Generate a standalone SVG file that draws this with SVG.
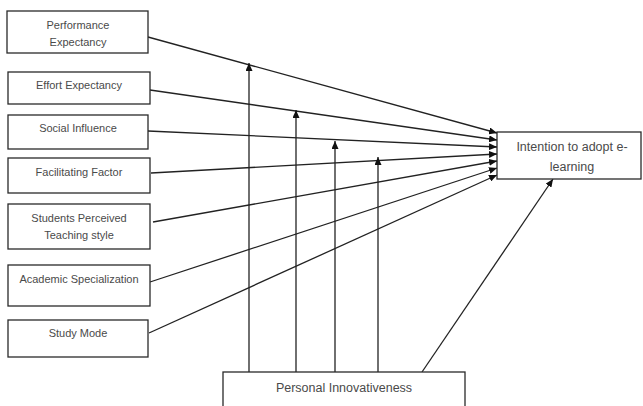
<svg xmlns="http://www.w3.org/2000/svg" width="643" height="406" viewBox="0 0 643 406">
<defs>
<marker id="ah" markerWidth="8" markerHeight="7" refX="8" refY="3.5" orient="auto" markerUnits="userSpaceOnUse">
<path d="M0,0 L8,3.5 L0,7 Z" fill="#111"/>
</marker>
<style>
.box{fill:#fff;stroke:#2a2a2a;stroke-width:1.3}
.t{font-family:"Liberation Sans",Arial,sans-serif;font-size:11px;fill:#4a4a4a;text-anchor:middle}
.tl{font-family:"Liberation Sans",Arial,sans-serif;font-size:12.5px;fill:#4a4a4a;text-anchor:middle}
.c{stroke:#222;stroke-width:1.3;fill:none;marker-end:url(#ah)}
</style>
</defs>
<rect width="643" height="406" fill="#fff"/>
<g id="connectors">
<line class="c" x1="148" y1="37" x2="497" y2="133"/>
<line class="c" x1="150" y1="90" x2="497" y2="140"/>
<line class="c" x1="148" y1="131" x2="497" y2="147"/>
<line class="c" x1="151" y1="173" x2="497" y2="154"/>
<line class="c" x1="153" y1="222" x2="497" y2="161"/>
<line class="c" x1="150" y1="282" x2="497" y2="168"/>
<line class="c" x1="149" y1="333" x2="497" y2="175"/>
<line class="c" x1="249" y1="372" x2="249" y2="63"/>
<line class="c" x1="296" y1="372" x2="296" y2="110"/>
<line class="c" x1="335" y1="372" x2="335" y2="141"/>
<line class="c" x1="378" y1="372" x2="378" y2="157"/>
<line class="c" x1="422" y1="372" x2="553" y2="179"/>
</g>
<g id="pe"><rect class="box" x="7" y="11" width="141" height="42"/><text class="t" x="78" y="29">Performance</text><text class="t" x="78" y="46">Expectancy</text></g>
<g id="ee"><rect class="box" x="8" y="72" width="142" height="32"/><text class="t" x="79" y="89">Effort Expectancy</text></g>
<g id="si"><rect class="box" x="8" y="115" width="140" height="34"/><text class="t" x="78" y="132">Social Influence</text></g>
<g id="ff"><rect class="box" x="8" y="158" width="142" height="35"/><text class="t" x="79" y="176">Facilitating Factor</text></g>
<g id="spts"><rect class="box" x="8" y="204" width="142" height="45"/><text class="t" x="79" y="222">Students Perceived</text><text class="t" x="79" y="239">Teaching style</text></g>
<g id="as"><rect class="box" x="8" y="265" width="142" height="41"/><text class="t" x="79" y="283">Academic Specialization</text></g>
<g id="sm"><rect class="box" x="8" y="320" width="140" height="37"/><text class="t" x="78" y="337">Study Mode</text></g>
<g id="intention"><rect class="box" x="497" y="132" width="144" height="47"/><text class="tl" x="572" y="151">Intention to adopt e-</text><text class="tl" x="572" y="171">learning</text></g>
<g id="pi"><rect class="box" x="223" y="372" width="242" height="40"/><text class="tl" x="344" y="392">Personal Innovativeness</text></g>
</svg>
